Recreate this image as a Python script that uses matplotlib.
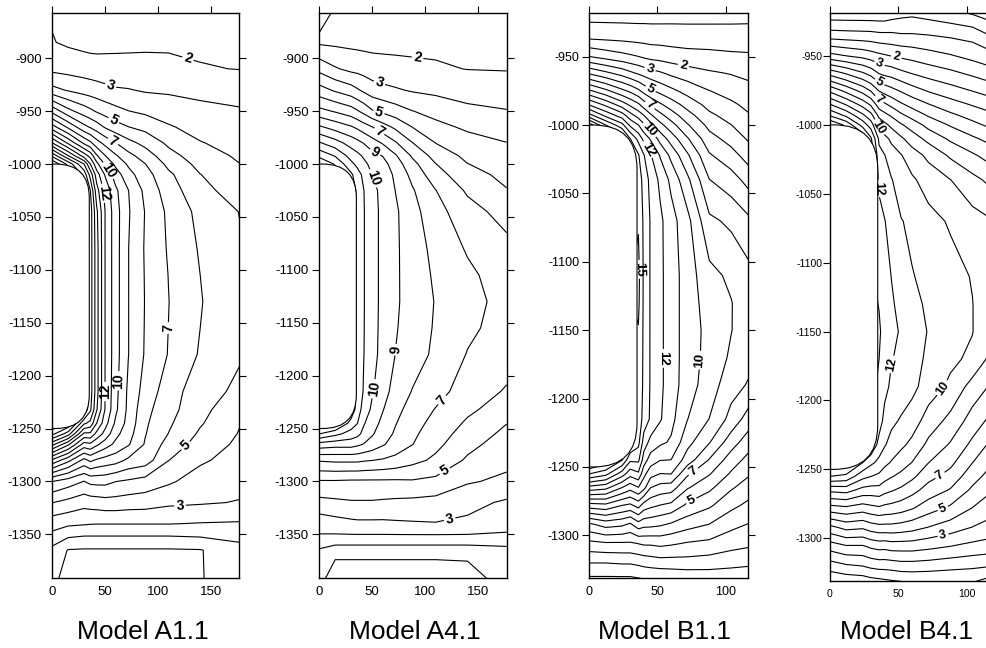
import numpy as np
import matplotlib
matplotlib.use("Agg")
import matplotlib.pyplot as plt
from matplotlib.patches import FancyBboxPatch

plt.rcParams['font.family'] = ['Liberation Sans', 'DejaVu Sans']
plt.rcParams['axes.unicode_minus'] = False

# ---- grid nodes ----
a_x = [0, 15, 30, 36, 42, 50, 60, 72, 88, 110, 140, 177]
a_y = [-857, -885, -910, -930, -950, -965, -980, -992, -1000, -1010, -1025,
       -1045, -1080, -1105, -1130, -1155, -1180, -1215, -1232, -1245, -1255,
       -1265, -1280, -1300, -1320, -1340, -1352, -1365, -1392]

b_x = [0, 12, 24, 30, 36, 40, 45, 52, 60, 72, 88, 104, 117]
b_y = [-918, -935, -950, -962, -975, -985, -993, -1000, -1010, -1022, -1040,
       -1070, -1110, -1130, -1150, -1170, -1190, -1215, -1232, -1245, -1255,
       -1265, -1278, -1292, -1306, -1320, -1332]

a11_z = [
    [1.9, 1.7, 1.6, 1.6, 1.6, 1.6, 1.65, 1.7, 1.75, 1.8, 1.75, 1.6],
    [2.05, 1.85, 1.7, 1.65, 1.65, 1.7, 1.75, 1.8, 1.85, 1.9, 1.85, 1.8],
    [2.75, 2.65, 2.55, 2.5, 2.45, 2.4, 2.35, 2.3, 2.25, 2.15, 2.05, 1.98],
    [4.3, 3.9, 3.6, 3.5, 3.4, 3.25, 3.1, 3.05, 2.9, 2.85, 2.7, 2.6],
    [7.7, 6.3, 5.5, 5.2, 4.9, 4.6, 4.3, 4.02, 3.8, 3.55, 3.3, 3.1],
    [10.4, 8.8, 7.3, 6.9, 6.5, 5.9, 5.4, 5.02, 4.7, 4.1, 3.65, 3.4],
    [14.0, 11.8, 9.8, 9.2, 8.4, 7.7, 7.02, 6.3, 5.7, 4.8, 4.05, 3.65],
    [17.7, 15.0, 12.5, 11.6, 10.1, 9.02, 8.1, 7.3, 6.5, 5.35, 4.45, 3.85],
    [20, 17.7, 15.02, 13.02, 11.3, 9.9, 8.75, 7.85, 7.02, 5.75, 4.7, 4.02],
    [20, 19, 16.7, 14.6, 12.5, 10.9, 9.5, 8.35, 7.4, 6.2, 5.02, 4.3],
    [20, 19, 18, 16.02, 13.4, 11.7, 10.2, 9.02, 7.75, 6.5, 5.3, 4.55],
    [20, 19, 18, 16.5, 14.2, 11.98, 10.4, 9.1, 7.95, 6.8, 5.7, 4.98],
    [20, 19, 18, 16.5, 14.4, 11.98, 10.4, 9.02, 7.9, 6.9, 5.9, 5.1],
    [20, 19, 18, 16.5, 14.4, 11.98, 10.4, 9.02, 7.93, 6.98, 6.0, 5.23],
    [20, 19, 18, 16.5, 14.4, 11.98, 10.4, 9.02, 7.95, 7.02, 6.05, 5.3],
    [20, 19, 18, 16.5, 14.4, 11.98, 10.4, 9.02, 7.93, 6.99, 6.0, 5.22],
    [20, 19, 18, 16.5, 14.4, 11.98, 10.4, 9.02, 7.9, 6.95, 5.9, 5.1],
    [20, 19, 18, 16.5, 14.4, 11.98, 10.3, 8.8, 7.6, 6.5, 5.4, 4.8],
    [20, 19, 18, 16.2, 14.1, 11.95, 10.2, 8.75, 7.3, 6.35, 5.3, 4.3],
    [20, 19, 15.2, 14.7, 13.02, 11.4, 9.8, 8.65, 7.15, 6.15, 5.1, 4.05],
    [18.3, 16.5, 12.8, 12.8, 11.7, 10.65, 9.3, 8.4, 7.05, 5.98, 4.85, 3.95],
    [15.3, 13.2, 10.6, 10.8, 10.2, 9.5, 8.75, 8.1, 6.9, 5.6, 4.6, 3.8],
    [10.8, 9.3, 7.7, 8.2, 7.85, 7.6, 7.4, 6.8, 6.5, 5.02, 4.15, 3.6],
    [6.02, 5.5, 4.98, 5.25, 5.3, 5.3, 5.02, 4.85, 4.6, 4.15, 3.55, 3.3],
    [4.02, 3.7, 3.35, 3.45, 3.5, 3.6, 3.6, 3.5, 3.45, 3.2, 3.1, 2.95],
    [2.4, 2.2, 2.1, 2.05, 2.03, 2.03, 2.03, 2.03, 2.03, 2.03, 1.95, 1.9],
    [1.7, 1.1, 0.97, 0.97, 0.97, 0.97, 0.97, 0.97, 0.97, 0.97, 1.05, 1.3],
    [0.7, -0.05, -0.1, -0.1, -0.1, -0.1, -0.1, -0.1, -0.1, -0.1, -0.05, 0.6],
    [0.4, -0.6, -0.6, -0.6, -0.6, -0.6, -0.6, -0.6, -0.6, -0.6, -0.1, 0.9],
]

a41_z = [
    [2.3, 1.9, 1.7, 1.6, 1.6, 1.6, 1.6, 1.65, 1.7, 1.75, 1.75, 1.7],
    [1.85, 1.8, 1.75, 1.72, 1.7, 1.7, 1.7, 1.72, 1.75, 1.8, 1.8, 1.8],
    [3.7, 3.1, 2.75, 2.7, 2.6, 2.45, 2.38, 2.3, 2.2, 2.1, 1.98, 1.95],
    [5.4, 4.85, 4.4, 4.1, 3.8, 3.45, 3.25, 3.1, 2.9, 2.75, 2.55, 2.45],
    [7.3, 6.9, 6.45, 6.1, 5.7, 5.1, 4.8, 4.45, 4.02, 3.7, 3.25, 3.05],
    [9.15, 8.6, 8.1, 7.8, 7.45, 7.02, 6.4, 5.8, 4.98, 4.25, 3.85, 3.5],
    [11.1, 10.4, 9.6, 9.3, 8.95, 8.45, 7.9, 7.1, 6.02, 4.98, 4.35, 4.02],
    [12.7, 11.9, 10.6, 10.25, 9.85, 9.3, 8.95, 8.1, 6.85, 5.6, 4.75, 4.3],
    [14, 12.9, 11.25, 10.75, 10.25, 9.7, 9.35, 8.5, 7.3, 6.02, 5.02, 4.55],
    [14, 13.5, 12.2, 11.4, 10.75, 9.98, 9.6, 8.8, 7.7, 6.4, 5.35, 4.75],
    [14, 13.5, 12.8, 11.75, 11.02, 10.3, 9.7, 8.98, 8.1, 7.02, 5.85, 5.05],
    [14, 13.5, 12.8, 11.8, 11.05, 10.35, 9.75, 9.15, 8.35, 7.35, 6.4, 5.6],
    [14, 13.5, 12.8, 11.8, 11.05, 10.35, 9.75, 9.15, 8.5, 7.7, 6.9, 6.3],
    [14, 13.5, 12.8, 11.8, 11.05, 10.35, 9.75, 9.15, 8.53, 7.85, 7.2, 6.52],
    [14, 13.5, 12.8, 11.8, 11.05, 10.35, 9.75, 9.15, 8.55, 7.95, 7.35, 6.65],
    [14, 13.5, 12.8, 11.8, 11.04, 10.33, 9.73, 9.08, 8.52, 7.9, 7.2, 6.6],
    [14, 13.5, 12.8, 11.8, 11.02, 10.3, 9.7, 8.98, 8.45, 7.8, 6.95, 6.45],
    [14, 13.5, 12.8, 11.75, 10.9, 10.1, 9.4, 8.6, 7.95, 7.35, 6.55, 5.9],
    [14, 13.5, 12.8, 11.5, 10.6, 9.8, 9.05, 8.3, 7.6, 6.95, 6.2, 5.5],
    [14, 13.5, 11.6, 11.02, 10.1, 9.4, 8.75, 8.05, 7.35, 6.7, 5.85, 5.02],
    [12.02, 11.3, 10.6, 10.3, 9.7, 9.1, 8.5, 7.85, 7.2, 6.45, 5.6, 4.75],
    [9.6, 9.4, 9.4, 9.2, 8.95, 8.6, 8.1, 7.6, 7.02, 6.25, 5.3, 4.5],
    [7.1, 7.2, 7.2, 7.2, 7.1, 7.02, 6.9, 6.7, 6.3, 5.8, 4.85, 4.25],
    [4.9, 4.9, 4.85, 4.85, 4.85, 4.85, 4.85, 4.85, 4.9, 4.75, 4.1, 3.8],
    [3.7, 3.8, 3.9, 3.9, 3.9, 3.9, 3.85, 3.8, 3.75, 3.65, 3.3, 2.85],
    [2.4, 2.6, 2.75, 2.8, 2.8, 2.8, 2.8, 2.85, 2.9, 2.95, 2.8, 2.4],
    [1.9, 1.85, 1.85, 1.85, 1.85, 1.85, 1.85, 1.85, 1.85, 1.85, 1.85, 1.8],
    [0.9, 0.5, 0.5, 0.5, 0.5, 0.5, 0.5, 0.5, 0.5, 0.5, 0.5, 0.7],
    [0.6, -1.0, -1.0, -1.0, -1.0, -1.0, -1.0, -1.0, -1.0, -1.0, -0.8, 0.8],
]

b11_z = [
    [-0.45, -0.45, -0.45, -0.45, -0.45, -0.45, -0.45, -0.45, -0.42, -0.42, -0.42, -0.4, -0.35],
    [0.67, 0.63, 0.59, 0.56, 0.53, 0.53, 0.5, 0.5, 0.47, 0.45, 0.45, 0.43, 0.4],
    [3.02, 2.64, 2.33, 2.17, 2.02, 1.86, 1.71, 1.63, 1.5, 1.36, 1.29, 1.19, 1.15],
    [5.85, 5.22, 4.6, 4.2, 3.86, 3.63, 3.38, 3.11, 2.78, 2.45, 2.13, 1.94, 1.75],
    [9.17, 8.25, 7.25, 6.8, 6.2, 5.67, 5.17, 4.71, 4.25, 3.64, 3.02, 2.63, 2.33],
    [11.9, 10.75, 9.5, 8.8, 8.17, 7.5, 6.83, 6.14, 5.5, 4.6, 3.67, 3.17, 2.75],
    [14.4, 12.75, 11.5, 10.4, 9.6, 9.02, 8.17, 7.29, 6.5, 5.4, 4.21, 3.61, 3.08],
    [17.6, 15.02, 13.33, 11.8, 11.02, 10.17, 9.33, 8.29, 7.38, 6.1, 4.71, 4.02, 3.41],
    [17.6, 15.8, 16.0, 14.02, 12.67, 11.7, 10.86, 9.63, 8.56, 7.1, 5.38, 4.63, 3.86],
    [17.6, 15.8, 15.8, 15.5, 14.1, 13.05, 12.1, 10.9, 9.73, 8.14, 6.1, 5.38, 4.53],
    [17.6, 15.8, 15.5, 15.3, 14.6, 13.6, 12.7, 11.77, 10.75, 9.23, 7.02, 6.44, 5.63],
    [15, 15, 15, 14.95, 14.9, 13.8, 12.9, 12.2, 11.4, 10.3, 8.2, 7.8, 7.2],
    [15, 15, 15, 14.95, 15.3, 13.8, 12.9, 12.2, 11.5, 10.5, 9.3, 8.8, 8.3],
    [15, 15, 15, 14.95, 15.2, 13.8, 12.9, 12.2, 11.5, 10.5, 9.55, 9.04, 8.45],
    [15, 15, 15, 14.95, 14.95, 13.8, 12.9, 12.2, 11.5, 10.5, 9.7, 9.03, 8.5],
    [15, 15, 15, 14.95, 14.9, 13.78, 12.9, 12.2, 11.5, 10.5, 9.65, 8.85, 8.3],
    [15, 15, 15, 14.95, 14.85, 13.75, 12.9, 12.2, 11.5, 10.45, 9.5, 8.4, 7.9],
    [16, 16, 15.5, 15.2, 14.7, 13.6, 12.85, 12.1, 11.3, 10.02, 8.98, 7.67, 6.53],
    [17, 16.5, 15.8, 15.2, 14.3, 12.53, 11.67, 11.2, 10.87, 9.32, 8.06, 6.46, 5.44],
    [17.6, 16.8, 15.02, 13.17, 13.2, 11.5, 10.5, 10.02, 9.98, 8.5, 6.92, 5.5, 4.67],
    [15.02, 14.33, 12.5, 11.4, 11.83, 10.29, 9.38, 8.98, 9.02, 7.17, 6.08, 4.87, 4.11],
    [11.67, 11.33, 10.02, 9.4, 9.98, 9.33, 8.02, 7.63, 7.5, 6.1, 5.25, 4.13, 3.53],
    [7.57, 7.75, 7.02, 6.8, 7.4, 6.57, 6.25, 5.98, 5.75, 4.8, 4.17, 3.27, 2.76],
    [3.8, 4.4, 4.2, 3.83, 4.6, 4.33, 4.29, 4.14, 3.86, 3.4, 2.98, 2.29, 1.95],
    [1.71, 1.86, 1.86, 1.86, 2.02, 2.14, 2.14, 2.25, 2.13, 1.9, 1.75, 1.38, 1.21],
    [0.02, 0.02, 0.1, 0.1, 0.22, 0.33, 0.44, 0.56, 0.56, 0.6, 0.5, 0.33, 0.17],
    [-1.2, -1.2, -1.2, -1.2, -1.1, -1.0, -1.0, -1.0, -0.9, -0.8, -0.7, -0.7, -0.6],
]

b41_z = [
    [-1.8, -1.8, -1.8, -1.8, -1.8, -1.8, -1.6, -1.4, -1.3, -1.5, -1.8, -2.2, -2.6],
    [0.5, 0.43, 0.38, 0.35, 0.25, 0.24, 0.22, 0.11, 0.1, 0.02, -0.15, -0.35, -1.02],
    [3.38, 3.02, 2.73, 2.5, 2.26, 2.13, 1.98, 1.82, 1.67, 1.4, 1.09, 0.71, 0.38],
    [6.5, 5.78, 5.02, 4.55, 3.86, 3.67, 3.53, 3.19, 2.9, 2.55, 2.18, 1.76, 1.38],
    [9.75, 8.67, 7.6, 6.9, 5.92, 5.6, 5.29, 4.87, 4.41, 3.89, 3.4, 2.95, 2.59],
    [12.02, 10.89, 9.6, 8.8, 7.45, 7.14, 6.71, 6.13, 5.63, 5.02, 4.4, 3.9, 3.5],
    [13.9, 12.75, 11.2, 10.33, 8.71, 8.29, 7.86, 7.2, 6.63, 5.89, 5.2, 4.64, 4.24],
    [16.0, 14.75, 12.6, 11.5, 9.73, 9.25, 8.75, 8.11, 7.56, 6.67, 5.9, 5.27, 4.79],
    [16, 15.2, 15.02, 13.17, 10.8, 10.29, 9.8, 9.17, 8.5, 7.7, 6.82, 6.17, 5.69],
    [16, 15.2, 14.5, 14.02, 11.3, 11.03, 10.43, 10.05, 9.47, 8.75, 7.83, 7.14, 6.59],
    [16, 15.2, 14.02, 13.6, 11.82, 11.36, 11.06, 10.5, 10.15, 9.6, 9.02, 8.3, 7.77],
    [13.5, 13.5, 13.5, 13.3, 12.3, 12.05, 11.55, 11.05, 10.8, 10.3, 9.9, 9.4, 9.1],
    [13.5, 13.5, 13.5, 13.3, 12.7, 12.4, 11.98, 11.55, 11.05, 10.75, 10.3, 9.95, 9.5],
    [13.5, 13.5, 13.5, 13.3, 12.95, 12.5, 12.12, 11.72, 11.25, 10.85, 10.4, 10.02, 9.45],
    [13.5, 13.5, 13.5, 13.3, 13.15, 12.6, 12.25, 11.9, 11.45, 10.95, 10.45, 10.03, 9.25],
    [13.5, 13.5, 13.5, 13.3, 13.0, 12.45, 12.05, 11.78, 11.4, 10.8, 10.2, 9.8, 8.75],
    [13.5, 13.5, 13.5, 13.3, 12.8, 12.3, 11.8, 11.6, 11.3, 10.5, 9.8, 8.6, 7.9],
    [14, 13.6, 13.5, 13.3, 12.5, 11.67, 11.22, 10.88, 10.46, 9.57, 8.68, 7.57, 6.75],
    [14, 13.6, 13.3, 13.02, 11.6, 11.1, 10.63, 10.21, 9.76, 8.76, 7.9, 6.76, 5.82],
    [14, 13.6, 12.02, 11.25, 10.73, 10.29, 9.92, 9.5, 8.98, 8.02, 7.25, 6.02, 5.16],
    [12.02, 11.75, 10.33, 10.02, 9.78, 9.4, 9.08, 8.73, 8.23, 7.33, 6.64, 5.41, 4.65],
    [9.25, 9.4, 8.67, 8.57, 8.63, 8.33, 8.1, 7.8, 7.36, 6.58, 5.92, 4.81, 4.12],
    [6.6, 6.8, 6.5, 6.71, 6.86, 6.71, 6.63, 6.44, 6.1, 5.45, 4.82, 3.98, 3.45],
    [3.73, 4.33, 4.17, 4.5, 4.67, 4.67, 4.67, 4.57, 4.38, 3.98, 3.5, 2.98, 2.63],
    [1.43, 1.86, 1.86, 2.17, 2.33, 2.29, 2.43, 2.43, 2.43, 2.25, 1.98, 1.7, 1.55],
    [-0.5, -0.14, 0.02, 0.25, 0.38, 0.375, 0.43, 0.57, 0.57, 0.5, 0.33, 0.2, 0.07],
    [-2.0, -1.8, -1.7, -1.5, -1.4, -1.3, -1.2, -1.1, -1.0, -1.0, -1.0, -1.0, -1.5],
]

levels = list(range(-3, 21))

# contour labels: value and where it sits
a11_lab = [2, 3, 5, 7, 10, 12, 7, 10, 12, 5, 3]
a11_pos = [(125.7, -909.5), (54.7, -927.4), (57.2, -960.5), (57.8, -978),
           (52, -1007), (47.7, -1027.6), (110, -1155), (64.7, -1205),
           (50.8, -1215), (127, -1267), (121, -1325)]
a41_lab = [2, 3, 5, 7, 9, 10, 9, 10, 7, 5, 3]
a41_pos = [(92.2, -904.7), (55.9, -926.2), (55.9, -952), (55.9, -970.3),
           (51.8, -990.5), (51.1, -1013.4), (75.8, -1175.8), (55.9, -1212.9),
           (130.1, -1235.6), (125.4, -1301.8), (123.8, -1339)]
b11_lab = [2, 3, 5, 7, 10, 12, 15, 12, 10, 7, 5]
b11_pos = [(69.4, -954.4), (44.5, -959.2), (44.5, -974.4), (44, -986),
           (43.3, -1004.3), (41.6, -1018.7), (36.5, -1105.5), (56.2, -1170.6),
           (79.9, -1171.8), (75.8, -1252.8), (75.1, -1275.4)]
b41_lab = [2, 3, 5, 7, 10, 12, 12, 10, 7, 5, 3]
b41_pos = [(48.8, -949.3), (36.2, -955.8), (36.2, -969.4), (36.2, -981.4),
           (36.2, -1001.7), (36.7, -1046), (46.4, -1174.2), (84, -1192.4),
           (82.8, -1257.7), (82.8, -1279.5), (82.8, -1298.8)]

# the opening (blanked region)
cav_w, cav_top, cav_bot, cav_r = 35, -1000, -1250, 32

W, H = 986, 648
fig = plt.figure(figsize=(W / 100, H / 100), dpi=100)

panels = [
    ("Model A1.1", a_x, a_y, a11_z, a11_lab, a11_pos, (52.3, 13.3, 239.3, 578.3),
     (0, 177), (-1391.6, -857.5), [0, 50, 100, 150], 9.5, 10, 2.5, 143),
    ("Model A4.1", a_x, a_y, a41_z, a41_lab, a41_pos, (319.3, 13.3, 506.7, 578.3),
     (0, 177), (-1391.6, -857.5), [0, 50, 100, 150], 9.5, 10, 2.5, 415),
    ("Model B1.1", b_x, b_y, b11_z, b11_lab, b11_pos, (589.3, 13.3, 748.3, 578.3),
     (0, 116.6), (-1331.4, -918.3), [0, 50, 100], 9, 9.5, 2.2, 665),
    ("Model B4.1", b_x, b_y, b41_z, b41_lab, b41_pos, (829.7, 12.7, 989.7, 581),
     (0, 116.6), (-1331, -918.6), [0, 50, 100], 7.6, 9, 0.5, 907),
]

for title, gx, gy, gz, labs, poss, box, xl, yl, xt, tfs, lfs, ypad, tx in panels:
    l, t, r, b = box
    ax = fig.add_axes([l / W, 1 - b / H, (r - l) / W, (b - t) / H])
    z = np.array(gz)
    # unlabelled levels in one go, each labelled level on its own
    plain = [v for v in levels if v not in labs]
    ax.contour(gx, gy, z, levels=plain, colors='k', linewidths=0.8,
               negative_linestyles='solid', zorder=1)
    plt.rcParams['font.weight'] = 'bold'
    for lev in sorted(set(labs)):
        cs = ax.contour(gx, gy, z, levels=[lev], colors='k', linewidths=0.8,
                        zorder=1)
        pts = [p for v, p in zip(labs, poss) if v == lev]
        cs.clabel(manual=pts, inline=True, fmt='%d', fontsize=lfs,
                  colors='k', inline_spacing=2)
    plt.rcParams['font.weight'] = 'normal'
    cav = FancyBboxPatch((-60, cav_bot), cav_w + 60, cav_top - cav_bot,
                         boxstyle="round,pad=0,rounding_size=%g" % cav_r,
                         facecolor='white', edgecolor='k', linewidth=0.8,
                         zorder=2)
    ax.add_patch(cav)

    ax.set_xlim(*xl)
    ax.set_ylim(*yl)
    ax.set_xticks(xt)
    lo = -1350 if yl[0] < -1360 else -1300
    hi = -900 if yl[1] > -880 else -950
    ax.set_yticks(list(range(lo, hi + 1, 50)))
    ax.tick_params(axis='both', direction='out', length=5, width=0.8,
                   top=True, right=True, bottom=False, left=True,
                   labelbottom=True, labelleft=True, labelsize=tfs)
    ax.tick_params(axis='x', pad=0.5)
    ax.tick_params(axis='y', pad=ypad)
    for s in ax.spines.values():
        s.set_linewidth(1.0)
    fig.text(tx / W, 1 - 632 / H, title, ha='center', va='center', fontsize=19)

fig.savefig("out.png", dpi=100)
